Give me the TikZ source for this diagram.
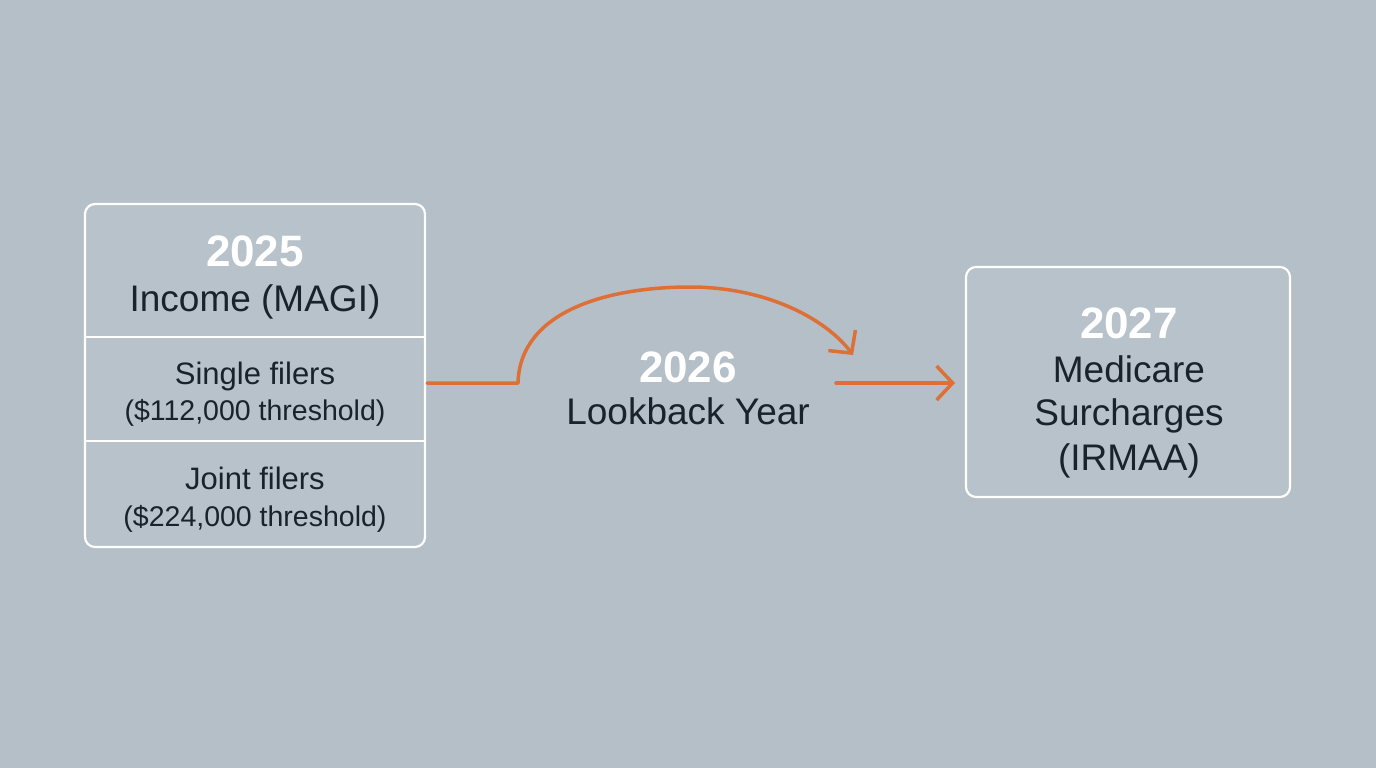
\documentclass[tikz,border=0pt]{standalone}
\usepackage{fontspec}
\setmainfont{Liberation Sans}
\usetikzlibrary{arrows.meta}
\definecolor{bg}{RGB}{181,191,199}
\definecolor{boxfill}{RGB}{184,194,202}
\definecolor{ink}{RGB}{26,34,44}
\definecolor{orng}{RGB}{222,111,55}
\tikzset{
  panel/.style={draw=white, line width=2.2pt, rounded corners=10pt, fill=boxfill},
  divider/.style={draw=white, line width=2.2pt},
  yeartxt/.style={text=white, font=\fontsize{44}{48}\selectfont\bfseries, inner sep=0pt, anchor=base},
  bigtxt/.style={text=ink, font=\fontsize{37}{42}\selectfont, inner sep=0pt, anchor=base},
  midtxt/.style={text=ink, font=\fontsize{31}{36}\selectfont, inner sep=0pt, anchor=base},
  smalltxt/.style={text=ink, font=\fontsize{28.5}{33}\selectfont, inner sep=0pt, anchor=base},
  flow/.style={draw=orng, line width=3.5pt, line cap=round, line join=round},
  chev/.style={-{Straight Barb[length=16pt,width=34pt,line width=3.5pt]}}
}
\begin{document}
\begin{tikzpicture}[x=1pt,y=-1pt]
\fill[bg] (0,0) rectangle (1376,768);
\useasboundingbox (0,0) rectangle (1376,768);
% left panel
\draw[panel] (85,204) rectangle (425,547);
\coordinate (d1l) at (86,337); \coordinate (d1r) at (424,337);
\coordinate (d2l) at (86,441); \coordinate (d2r) at (424,441);
\draw[divider] (d1l) -- (d1r);
\draw[divider] (d2l) -- (d2r);
\node[yeartxt] (y25) at (255,266) {2025};
\node[bigtxt] (inc) at (255,311) {Income (MAGI)};
\node[midtxt] (sgl) at (255,384) {Single filers};
\node[smalltxt] (sglt) at (255,420) {(\$112,000 threshold)};
\node[midtxt] (jnt) at (255,489) {Joint filers};
\node[smalltxt] (jntt) at (255,526) {(\$224,000 threshold)};
% middle
\node[yeartxt] (y26) at (688,382) {2026};
\node[bigtxt] (look) at (688,424) {Lookback Year};
% right panel
\draw[panel] (966,267) rectangle (1290,497);
\node[yeartxt] (y27) at (1129,338) {2027};
\node[bigtxt] (med) at (1129,382) {Medicare};
\node[bigtxt] (sur) at (1129,425) {Surcharges};
\node[bigtxt] (irm) at (1129,470) {(IRMAA)};
% connectors
\coordinate (lout) at (427,383);
\coordinate (knee) at (518,383);
\coordinate (peak) at (690,287);
\coordinate (arcend) at (853,355);
\coordinate (s2) at (836,383);
\coordinate (rin) at (955,383);
\draw[flow,chev] (lout) -- (knee) .. controls (520,310) and (610,287) .. (peak) .. controls (765,287) and (825,318) .. (arcend);
\draw[flow,chev] (s2) -- (rin);
\end{tikzpicture}
\end{document}
